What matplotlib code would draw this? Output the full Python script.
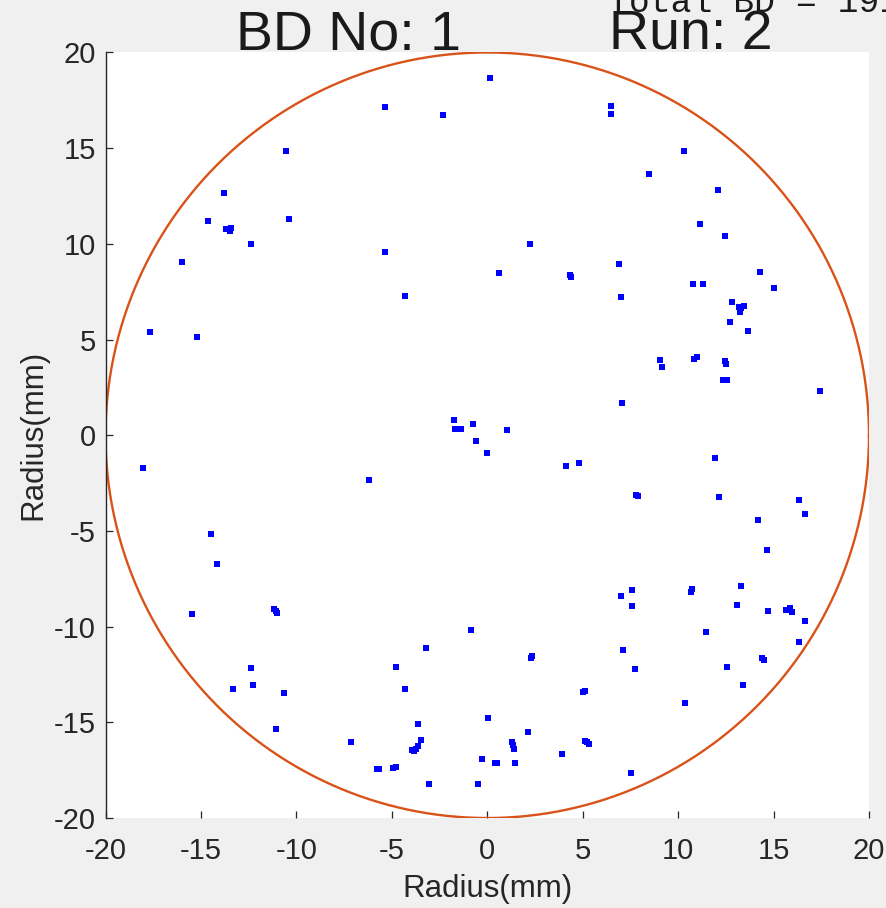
import numpy as np
import matplotlib
matplotlib.use("Agg")
import matplotlib.pyplot as plt
from matplotlib import font_manager

# Breakdown positions on the structure face (mm)
bd_x = [0.13, -5.37, -2.33, 6.47, 6.47, -10.56, 10.30, 8.46, -13.81, 12.08,
        -14.65, -10.40, -13.55, -13.70, -13.40, -13.50, -12.40, -5.37, 2.23, 11.14,
        12.45, -16.01, 6.89, 4.38, 4.33, 0.60, 14.28, 10.77, 11.29, 7.00,
        -4.32, 15.02, 12.81, 13.29, 13.44, 13.23, 13.18, 12.71, 13.65, -17.69,
        -15.23, 9.04, 9.15, 10.98, 10.82, 12.50, 12.45, 12.55, 12.34, 17.43,
        7.05, -1.76, -0.76, -1.55, -1.70, -1.39, 1.02, -0.60, -0.03, -18.06,
        -6.21, 4.11, 4.80, 11.92, 7.89, 7.79, 12.13, 16.33, 16.64, 14.18,
        14.65, -14.49, -14.18, -15.49, -11.08, -11.18, -11.03, -0.86, 7.00, 7.57,
        7.57, 10.72, 10.66, 13.29, 13.08, 14.70, 15.80, 15.64, 15.96, 15.85,
        16.64, 16.33, 11.45, 7.10, 7.73, -3.22, 2.28, 2.33, -12.40, -4.80,
        -12.29, -4.32, -13.34, -10.67, 5.11, 5.01, 12.55, 14.49, 14.39, 13.39,
        10.35, 0.03, -11.08, -3.64, -3.49, -3.75, -3.96, -3.64, -3.85, -7.15,
        2.12, 1.34, 1.39, 1.29, 5.21, 5.32, 5.11, 3.90, -0.29, 0.39,
        0.50, 1.44, -5.79, -5.69, -4.95, -4.80, -3.07, -0.50, 7.52]
bd_y = [18.69, 17.17, 16.71, 17.18, 16.81, 14.87, 14.87, 13.66, 12.67, 12.83,
        11.20, 11.31, 10.78, 10.78, 10.83, 10.67, 10.00, 9.56, 9.99, 11.04,
        10.41, 9.05, 8.95, 8.27, 8.37, 8.47, 8.53, 7.90, 7.90, 7.22,
        7.27, 7.69, 6.95, 6.64, 6.74, 6.42, 6.69, 5.90, 5.44, 5.38,
        5.12, 3.92, 3.55, 4.07, 3.97, 3.71, 3.86, 2.87, 2.87, 2.29,
        1.66, 0.82, 0.61, 0.35, 0.35, 0.35, 0.30, -0.28, -0.91, -1.69,
        -2.32, -1.59, -1.43, -1.17, -3.16, -3.11, -3.21, -3.37, -4.10, -4.42,
        -5.99, -5.15, -6.72, -9.34, -9.19, -9.09, -9.30, -10.18, -8.40, -8.09,
        -8.93, -8.03, -8.19, -7.88, -8.88, -9.20, -9.14, -9.14, -9.25, -9.04,
        -9.72, -10.82, -10.29, -11.20, -12.20, -11.13, -11.66, -11.56, -12.17, -12.12,
        -13.06, -13.27, -13.27, -13.48, -13.38, -13.43, -12.12, -11.76, -11.66, -13.07,
        -14.00, -14.80, -15.37, -15.10, -15.90, -16.37, -16.42, -16.26, -16.52, -16.05,
        -15.53, -16.20, -16.40, -16.05, -16.05, -16.15, -16.00, -16.63, -16.94, -17.15,
        -17.15, -17.10, -17.45, -17.45, -17.40, -17.35, -18.21, -18.21, -17.64]

structure_radius = 20.0
tick_values = [-20, -15, -10, -5, 0, 5, 10, 15, 20]
bd_number = 1
run_number = 2
total_bd = 191

available = {f.name for f in font_manager.fontManager.ttflist}
sans = "Liberation Sans Narrow" if "Liberation Sans Narrow" in available else "Liberation Sans"
plt.rcParams["font.family"] = [sans, "DejaVu Sans"]

fig = plt.figure(figsize=(8.86, 9.08), dpi=100, facecolor="#f0f0f0")
ax = fig.add_axes([0.1191, 0.0991, 0.8617, 0.8431])
ax.set_facecolor("white")

ax.plot(bd_x, bd_y, linestyle="none", marker="s", markersize=4.1,
        markeredgewidth=0, color="#0000ff")

theta = np.linspace(0, 2 * np.pi, 721)
ax.plot(structure_radius * np.cos(theta), structure_radius * np.sin(theta),
        color="#d95319", linewidth=1.7)

ax.set_xlim(-20, 20)
ax.set_ylim(-20, 20)
ax.set_xticks(tick_values)
ax.set_yticks(tick_values)
ax.set_xticklabels([str(v) for v in tick_values])
ax.set_yticklabels([str(v) for v in tick_values])

for side in ("top", "right", "bottom"):
    ax.spines[side].set_visible(False)
ax.spines["left"].set_color("#262626")
ax.spines["left"].set_linewidth(1.0)

ax.tick_params(axis="both", direction="in", length=5, width=0.9,
               color="#262626", labelcolor="#262626", labelsize=21)
ax.tick_params(axis="x", pad=14)
ax.tick_params(axis="y", pad=7)

ax.set_xlabel("Radius(mm)", fontsize=22.5, color="#262626", labelpad=6)
ax.set_ylabel("Radius(mm)", fontsize=22.5, color="#262626", labelpad=4)

fig.text(348 / 886, 1 - 50 / 908, f"BD No: {bd_number}", fontsize=40,
         ha="center", va="baseline", color="#1a1a1a")
fig.text(691 / 886, 1 - 50 / 908, f"Run: {run_number}", fontsize=40,
         ha="center", va="baseline", color="#1a1a1a")
fig.text(608 / 886, 1 - 12 / 908, f"Total BD = {total_bd}", fontsize=25,
         ha="left", va="baseline", color="#1a1a1a",
         family=["Liberation Mono", "DejaVu Sans Mono"])

fig.savefig("out.png", dpi=100, facecolor=fig.get_facecolor())
